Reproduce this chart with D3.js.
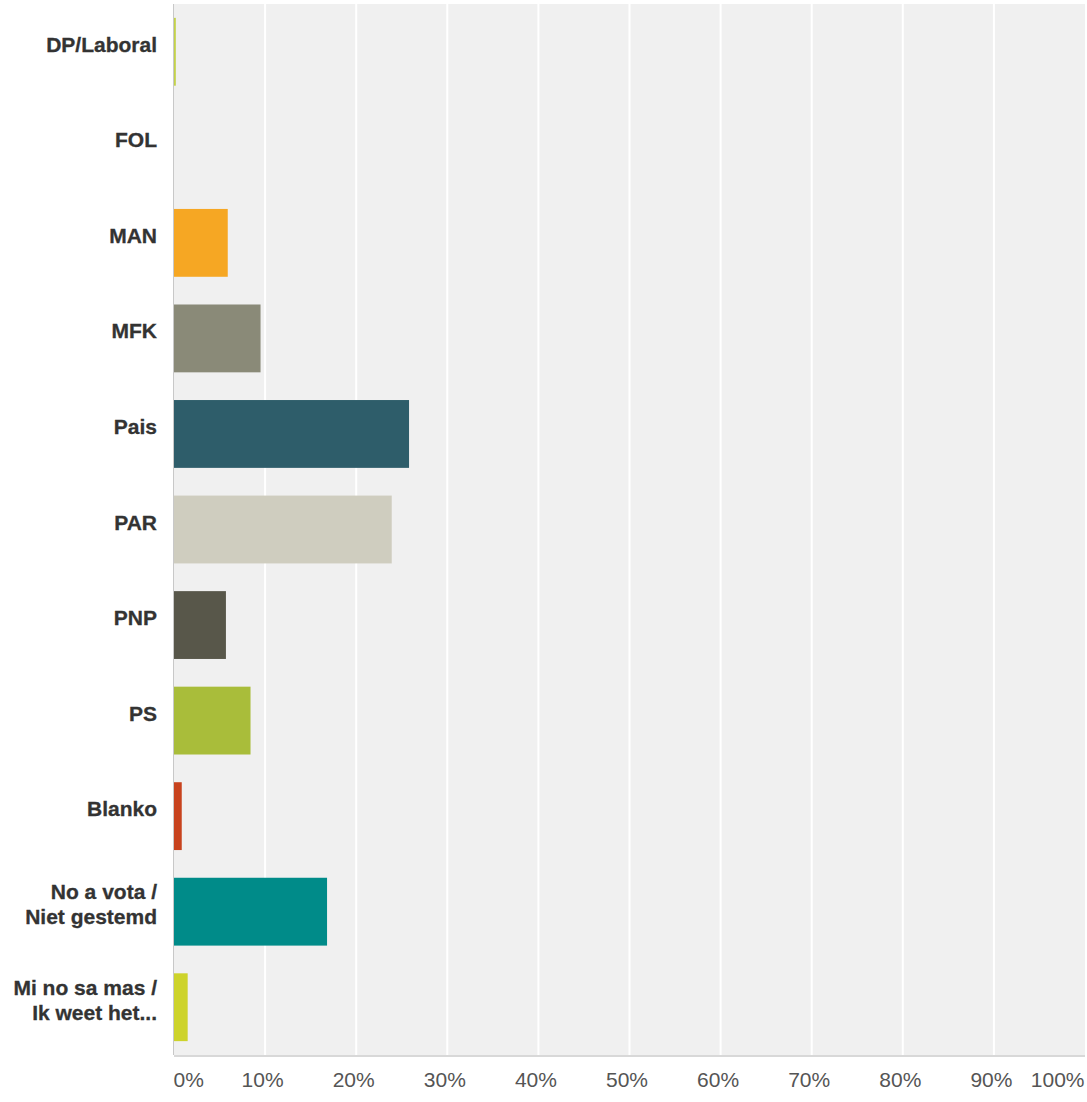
<!DOCTYPE html>
<meta charset="utf-8">
<style>
    body { margin: 0; background: #fff; }
    .cat { font-family: "Liberation Sans", Arial, sans-serif; font-weight: bold; font-size: 21px; fill: #333; stroke: #333; stroke-width: 0.3px; }
    .tick text { font-family: "Liberation Sans", Arial, sans-serif; font-size: 21px; fill: #555; }
</style>
<svg width="1087" height="1102"></svg>
<script src="https://d3js.org/d3.v7.min.js"></script>
<script>
    // answer options, one label line per array entry
    var categories = [
        ['DP/Laboral'], ['FOL'], ['MAN'], ['MFK'], ['Pais'], ['PAR'], ['PNP'], ['PS'], ['Blanko'],
        ['No a vota /', 'Niet gestemd'], ['Mi no sa mas /', 'Ik weet het...']
    ];
    var values = [0.2, 0, 5.9, 9.5, 25.8, 23.9, 5.7, 8.4, 0.85, 16.8, 1.5];
    var colors = ['#c3d14a', '#7aa0c0', '#f6a723', '#8a8a78', '#2e5d6a', '#cfcdbf', '#58574a', '#a9bd3a', '#c8431e', '#008b89', '#cdd32b'];
    var tickValues = [0, 10, 20, 30, 40, 50, 60, 70, 80, 90, 100];

    var svg = d3.select('svg'),
        margin = { top: 4, right: 2, bottom: 47, left: 174 },
        width = +svg.attr('width') - margin.left - margin.right,
        height = +svg.attr('height') - margin.top - margin.bottom;

    var idx = d3.range(categories.length);
    var x = d3.scaleLinear().domain([0, 100]).range([0, width]);
    var y = d3.scaleBand().domain(idx).range([0, height]).paddingInner(0.29).paddingOuter(0.145);

    var g = svg.append('g').attr('transform', 'translate(' + margin.left + ',' + margin.top + ')');

    // plot background
    g.append('rect').attr('width', width).attr('height', height).attr('fill', '#f0f0f0');

    // vertical white grid lines
    g.selectAll('.grid').data(tickValues.slice(1, -1)).enter().append('line')
        .attr('x1', d => x(d)).attr('x2', d => x(d))
        .attr('y1', 0).attr('y2', height)
        .attr('stroke', '#fff').attr('stroke-width', 2);

    // left and bottom edges
    g.append('line').attr('x1', -0.5).attr('x2', -0.5).attr('y1', 0).attr('y2', height).attr('stroke', '#c8c8c8');
    g.append('line').attr('x1', 0).attr('x2', width).attr('y1', height + 1).attr('y2', height + 1).attr('stroke', '#d8d8d8').attr('stroke-width', 2);

    // bars
    g.selectAll('.bar').data(idx).enter().append('rect')
        .attr('x', 0)
        .attr('y', i => y(i))
        .attr('width', i => x(values[i]))
        .attr('height', y.bandwidth())
        .attr('fill', i => colors[i]);

    // category labels
    var lab = g.selectAll('.cat').data(idx).enter().append('text')
        .attr('class', 'cat')
        .attr('text-anchor', 'end')
        .attr('x', -17)
        .attr('y', i => y(i) + y.bandwidth() / 2 - (categories[i].length - 1) * 12.5)
        .attr('dy', '0.33em');
    lab.selectAll('tspan').data(i => categories[i]).enter().append('tspan')
        .attr('x', -17)
        .attr('dy', (d, j) => j === 0 ? 0 : 25)
        .text(d => d);

    // x axis labels
    var ax = g.append('g')
        .attr('transform', 'translate(0,' + height + ')')
        .call(d3.axisBottom(x).tickValues(tickValues).tickFormat(d => d + '%').tickSize(0));
    ax.select('.domain').remove();
    ax.selectAll('.tick text')
        .attr('y', 32).attr('dy', 0)
        .attr('text-anchor', d => d === 0 ? 'start' : (d === 100 ? 'end' : 'middle'))
        .attr('dx', d => d === 0 ? -1 : (d === 100 ? -1 : -3));
</script>
